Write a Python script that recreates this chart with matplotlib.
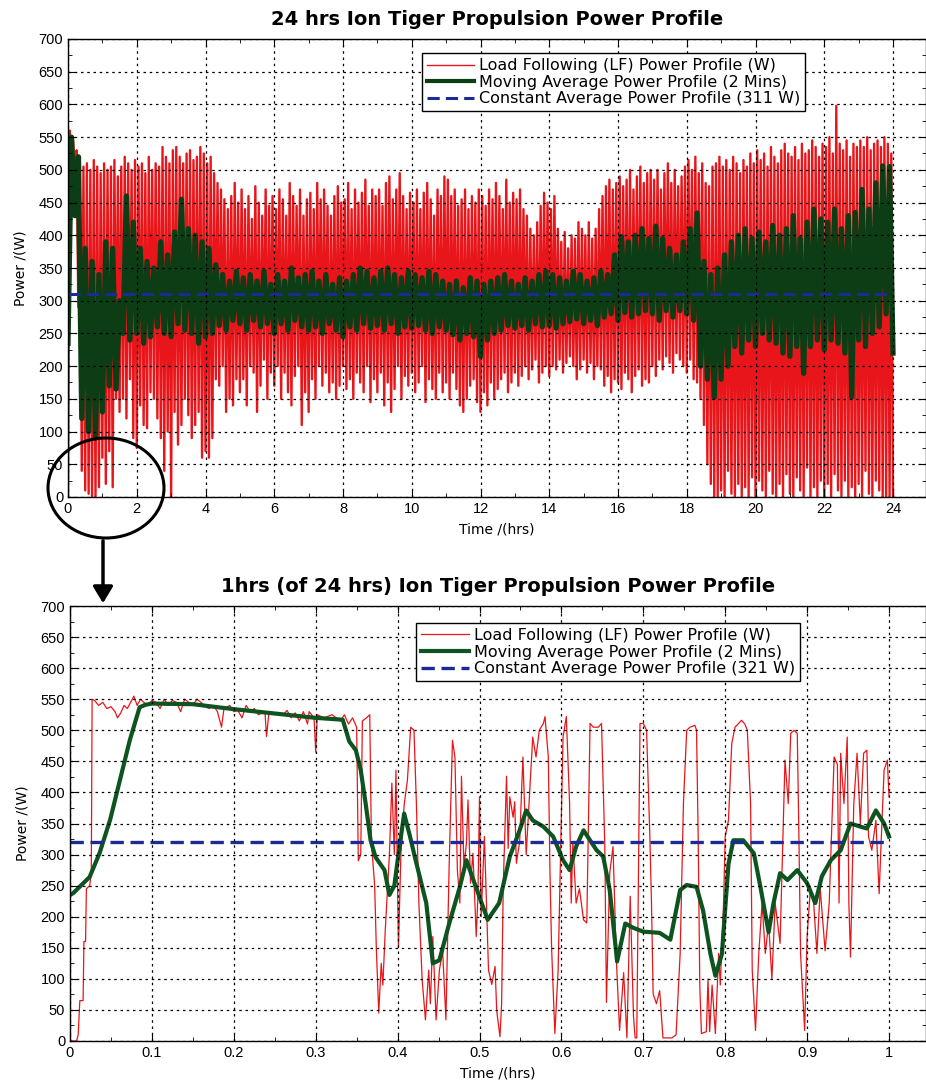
"""
Ion Tiger propulsion power profile: 24 h overview and 1 h zoom.
"""
import numpy as np
import matplotlib.pyplot as plt
from matplotlib.patches import Ellipse, FancyArrowPatch
from matplotlib.ticker import MultipleLocator

plt.rcParams["font.family"] = ["Liberation Sans", "DejaVu Sans"]

RED = "#e8161a"
GREEN_TOP = "#0c3d14"
GREEN = "#0d5420"
BLUE = "#1c2a96"

# ---- 24 h panel: LF signal read as trough/peak per 0.1 h (hours 0..23) ----
red_lo = [
    0, 500, 470, 290, 40, 10, 5, 0, 0, 15,
    60, 20, 70, 15, 150, 130, 150, 120, 180, 90,
    75, 140, 110, 105, 160, 150, 120, 90, 40, 100,
    0, 130, 80, 110, 150, 125, 90, 110, 130, 60,
    70, 60, 90, 180, 170, 200, 130, 150, 140, 180,
    160, 180, 140, 200, 190, 130, 170, 210, 150, 190,
    170, 200, 150, 190, 160, 140, 185, 200, 110, 160,
    130, 180, 150, 200, 170, 190, 160, 175, 150, 170,
    200, 165, 180, 150, 190, 175, 160, 200, 145, 180,
    160, 190, 140, 175, 130, 165, 200, 150, 185, 170,
    190, 160, 175, 200, 145, 180, 165, 150, 190, 160,
    175, 150, 190, 165, 140, 130, 150, 170, 180, 145,
    130, 160, 140, 175, 150, 165, 180, 190, 160, 175,
    190, 170, 185, 200, 180, 195, 210, 175, 190, 200,
    185, 200, 195, 210, 190, 205, 215, 200, 180, 195,
    210, 190, 205, 180, 200, 195, 170, 185, 160, 180,
    175, 165, 190, 180, 160, 185, 195, 170, 180, 175,
    200, 185, 210, 195, 215, 205, 190, 220, 210, 200,
    190, 210, 180, 175, 150, 110, 50, 20, 0, 0,
    10, 0, 40, 5, 0, 20, 0, 15, 0, 30,
    0, 25, 10, 0, 40, 5, 0, 20, 0, 35,
    5, 0, 30, 10, 0, 45, 0, 15, 0, 25,
    0, 20, 0, 35, 10, 0, 25, 0, 15, 0,
    20, 0, 40, 5, 0, 25, 10, 0, 0, 0,
]
red_hi = [
    560, 545, 530, 520, 505, 510, 500, 515, 505, 495,
    510, 500, 505, 515, 490, 505, 520, 510, 500, 515,
    505, 510, 495, 520, 500, 510, 505, 535, 520, 510,
    530, 535, 520, 510, 525, 530, 515, 520, 535, 525,
    510, 520, 495, 480, 470, 455, 440, 460, 480, 450,
    470, 440, 460, 425, 475, 450, 430, 470, 445, 460,
    440, 470, 455, 430, 480, 460, 445, 470, 430, 455,
    465, 440, 480, 455, 470, 445, 430, 460, 475, 450,
    455, 480, 440, 470, 450, 465, 485, 445, 470, 460,
    470, 445, 480, 490, 455, 470, 495, 460, 440, 465,
    450, 470, 440, 465, 480, 455, 430, 470, 460, 490,
    485, 460, 470, 445, 455, 470, 440, 460, 450, 470,
    460, 445, 470, 455, 480, 460, 440, 485, 450, 465,
    455, 470, 440, 430, 410, 400, 420, 445, 465, 450,
    440, 460, 410, 390, 405, 380, 400, 395, 420, 410,
    400, 420, 395, 410, 440, 460, 475, 485, 470, 480,
    490, 475, 485, 500, 470, 490, 505, 480, 495, 500,
    485, 500, 470, 495, 510, 480, 500, 475, 490, 505,
    515, 500, 520, 495, 510, 480, 475, 505, 510, 520,
    505, 515, 500, 520, 510, 495, 515, 505, 525, 510,
    530, 515, 525, 505, 535, 520, 510, 530, 540, 525,
    520, 535, 515, 540, 525, 530, 545, 535, 520, 540,
    535, 550, 525, 598, 540, 530, 545, 520, 540, 535,
    545, 535, 550, 530, 540, 545, 535, 550, 540, 525,
]
red_end = 0

# moving average read as trough/peak per 0.2 h (hours 0..23)
green_lo = [
    235, 430, 120, 100, 90,
    130, 170, 165, 250, 240,
    250, 235, 245, 260, 250,
    245, 265, 255, 250, 235,
    245, 250, 262, 255, 270,
    265, 255, 270, 260, 265,
    250, 265, 255, 270, 260,
    255, 260, 250, 265, 255,
    245, 260, 255, 265, 258,
    262, 255, 265, 250, 260,
    258, 262, 255, 250, 260,
    255, 248, 240, 250, 245,
    215, 240, 250, 255, 262,
    258, 262, 255, 265, 260,
    262, 258, 265, 268, 272,
    265, 270, 262, 275, 280,
    270, 282, 275, 280, 285,
    280, 270, 285, 275, 285,
    280, 270, 200, 180, 153,
    180, 200, 230, 220, 240,
    230, 250, 240, 235, 220,
    215, 230, 189, 230, 240,
    225, 240, 235, 220, 153,
    240, 230, 250, 260, 280,
]
green_hi = [
    550, 520, 380, 360, 340,
    390, 380, 300, 460, 420,
    380, 360, 350, 390, 370,
    405, 455, 410, 400, 390,
    380, 355, 340, 330, 345,
    335, 340, 330, 345, 325,
    340, 330, 350, 335, 340,
    345, 330, 340, 325, 335,
    330, 340, 350, 345, 335,
    345, 350, 340, 335, 345,
    340, 335, 345, 340, 330,
    325, 330, 320, 335, 330,
    325, 330, 335, 340, 330,
    325, 335, 330, 340, 345,
    340, 335, 330, 345, 340,
    330, 335, 345, 340, 370,
    398, 390, 400, 410, 395,
    414, 395, 380, 370, 390,
    410, 434, 360, 340, 350,
    370, 390, 400, 410, 395,
    405, 390, 415, 400, 410,
    430, 395, 420, 440, 425,
    420, 440, 410, 430, 435,
    470, 440, 480, 506, 505,
]
green_end = 220
avg_24h = 311

# ---- 1 h panel ----
lf_t = [
    0.000, 0.008, 0.010, 0.012, 0.016, 0.017, 0.019, 0.020, 0.024, 0.026,
    0.027, 0.030, 0.035, 0.040, 0.045, 0.050, 0.055, 0.058, 0.062, 0.066,
    0.070, 0.074, 0.078, 0.082, 0.086, 0.090, 0.095, 0.100, 0.105, 0.110,
    0.115, 0.120, 0.125, 0.130, 0.135, 0.140, 0.145, 0.150, 0.155, 0.160,
    0.165, 0.170, 0.175, 0.180, 0.185, 0.188, 0.195, 0.200, 0.205, 0.210,
    0.215, 0.220, 0.225, 0.230, 0.238, 0.240, 0.243, 0.250, 0.260, 0.265,
    0.270, 0.275, 0.280, 0.285, 0.290, 0.292, 0.298, 0.300, 0.302, 0.310,
    0.320, 0.330, 0.335, 0.340, 0.345, 0.350, 0.352, 0.355, 0.357, 0.362,
    0.366, 0.368, 0.372, 0.374, 0.377, 0.380, 0.382, 0.385, 0.390, 0.393,
    0.396, 0.398, 0.401, 0.404, 0.408, 0.412, 0.416, 0.420, 0.423, 0.426,
    0.430, 0.434, 0.438, 0.440, 0.443, 0.447, 0.451, 0.455, 0.459, 0.463,
    0.467, 0.470, 0.473, 0.476, 0.478, 0.481, 0.484, 0.486, 0.489, 0.492,
    0.496, 0.498, 0.500, 0.502, 0.506, 0.511, 0.515, 0.519, 0.521, 0.525,
    0.527, 0.529, 0.533, 0.535, 0.537, 0.541, 0.543, 0.545, 0.549, 0.553,
    0.557, 0.561, 0.565, 0.569, 0.573, 0.578, 0.580, 0.584, 0.586, 0.588,
    0.592, 0.596, 0.602, 0.606, 0.610, 0.612, 0.614, 0.618, 0.622, 0.627,
    0.631, 0.635, 0.639, 0.645, 0.649, 0.653, 0.655, 0.659, 0.663, 0.667,
    0.671, 0.676, 0.680, 0.684, 0.688, 0.690, 0.692, 0.696, 0.700, 0.704,
    0.708, 0.710, 0.712, 0.716, 0.720, 0.724, 0.735, 0.740, 0.745, 0.749,
    0.753, 0.757, 0.763, 0.765, 0.767, 0.769, 0.771, 0.777, 0.779, 0.781,
    0.784, 0.788, 0.792, 0.794, 0.798, 0.800, 0.804, 0.808, 0.812, 0.820,
    0.824, 0.827, 0.831, 0.833, 0.837, 0.841, 0.845, 0.849, 0.853, 0.857,
    0.861, 0.867, 0.873, 0.877, 0.880, 0.884, 0.888, 0.890, 0.892, 0.897,
    0.900, 0.904, 0.908, 0.912, 0.916, 0.922, 0.927, 0.933, 0.937, 0.939,
    0.941, 0.945, 0.949, 0.951, 0.953, 0.957, 0.961, 0.965, 0.969, 0.973,
    0.975, 0.979, 0.984, 0.988, 0.990, 0.994, 0.998, 1.000,
]
lf_w = [
    0, 0, 10, 65, 65, 160, 160, 245, 250, 270,
    550, 548, 540, 545, 535, 538, 530, 520, 528, 540,
    535, 545, 555, 540, 550, 545, 540, 548, 545, 535,
    550, 540, 548, 545, 530, 550, 545, 540, 550, 545,
    538, 535, 540, 530, 505, 535, 540, 530, 532, 520,
    540, 530, 535, 525, 530, 490, 530, 528, 525, 532,
    520, 528, 515, 530, 510, 530, 520, 465, 525, 520,
    525, 515, 525, 510, 520, 505, 290, 300, 515, 520,
    525, 320, 250, 150, 45, 125, 90, 180, 300, 415,
    300, 436, 150, 300, 380, 420, 505, 500, 380, 222,
    98, 34, 114, 60, 168, 34, 114, 145, 34, 286,
    484, 457, 275, 222, 426, 280, 318, 388, 254, 302,
    168, 230, 393, 200, 329, 114, 91, 120, 49, 7,
    60, 250, 426, 310, 393, 360, 385, 286, 320, 457,
    300, 393, 489, 457, 500, 511, 522, 457, 275, 151,
    12, 114, 489, 522, 382, 222, 320, 222, 245, 195,
    190, 511, 505, 505, 511, 313, 62, 270, 313, 135,
    17, 110, 5, 233, 40, 5, 5, 511, 511, 500,
    329, 222, 76, 60, 81, 5, 5, 10, 141, 382,
    500, 505, 508, 500, 329, 87, 12, 15, 100, 15,
    90, 12, 141, 90, 222, 329, 355, 479, 505, 516,
    510, 500, 382, 114, 17, 141, 222, 141, 190, 100,
    222, 157, 452, 382, 495, 500, 495, 329, 141, 17,
    168, 245, 222, 141, 245, 145, 222, 457, 445, 222,
    463, 382, 489, 222, 135, 382, 463, 350, 463, 468,
    329, 307, 355, 237, 307, 436, 452, 393,
]
ma_t = [
    0.000, 0.004, 0.024, 0.036, 0.049, 0.061, 0.073, 0.085, 0.092, 0.100,
    0.150, 0.200, 0.250, 0.300, 0.333, 0.341, 0.349, 0.355, 0.361, 0.367,
    0.373, 0.384, 0.390, 0.396, 0.401, 0.408, 0.415, 0.422, 0.435, 0.443,
    0.451, 0.463, 0.476, 0.484, 0.495, 0.510, 0.524, 0.537, 0.549, 0.557,
    0.565, 0.578, 0.590, 0.602, 0.610, 0.618, 0.627, 0.635, 0.643, 0.651,
    0.659, 0.668, 0.678, 0.688, 0.700, 0.720, 0.733, 0.745, 0.753, 0.765,
    0.773, 0.782, 0.788, 0.796, 0.804, 0.810, 0.822, 0.835, 0.843, 0.853,
    0.859, 0.867, 0.876, 0.888, 0.900, 0.910, 0.918, 0.929, 0.941, 0.953,
    0.965, 0.973, 0.984, 0.994, 1.000,
]
ma_w = [
    235, 238, 264, 302, 356, 420, 484, 537, 541, 543,
    542, 534, 527, 520, 517, 482, 468, 436, 382, 323,
    296, 275, 235, 250, 300, 366, 330, 291, 222, 125,
    130, 189, 248, 291, 250, 195, 222, 297, 339, 371,
    355, 345, 329, 291, 275, 313, 339, 323, 307, 297,
    243, 128, 189, 182, 176, 174, 163, 243, 251, 248,
    210, 140, 105, 140, 285, 323, 323, 302, 248, 175,
    222, 270, 259, 275, 254, 222, 265, 291, 307, 350,
    345, 342, 371, 350, 329,
]
avg_1h = 321

TEXT_FONT = ["DejaVu Sans"]


def zigzag(lo, hi, step, end_val, t_end):
    """Interleave read trough/peak values into one trace."""
    t0 = np.arange(len(lo)) * step
    t = np.empty(2 * len(lo))
    v = np.empty(2 * len(lo))
    t[0::2], t[1::2] = t0, t0 + step / 2
    v[0::2], v[1::2] = lo, hi
    return np.append(t, t_end), np.append(v, end_val)


def style_axes(ax, xmax, xmajor, xminor, title):
    ax.set_xlim(0, xmax)
    ax.set_ylim(0, 700)
    ax.xaxis.set_major_locator(MultipleLocator(xmajor))
    ax.xaxis.set_minor_locator(MultipleLocator(xminor))
    ax.xaxis.set_major_formatter(lambda v, pos: f"{v:g}")
    ax.yaxis.set_major_locator(MultipleLocator(50))
    ax.yaxis.set_minor_locator(MultipleLocator(25))
    ax.tick_params(which="both", direction="in", top=True, right=True, labelsize=10.5)
    ax.tick_params(which="major", length=5)
    ax.tick_params(which="minor", length=3)
    ax.grid(True, which="major", color="black", linestyle=(0, (2, 3)), linewidth=0.9)
    ax.set_axisbelow(False)
    ax.set_title(title, fontsize=14, fontweight="bold", pad=10, family=TEXT_FONT)
    ax.set_xlabel("Time /(hrs)", fontsize=10, labelpad=5, family=TEXT_FONT)
    ax.set_ylabel("Power /(W)", fontsize=10, labelpad=8, family=TEXT_FONT)
    for s in ax.spines.values():
        s.set_linewidth(1.0)


def add_legend(ax, avg, anchor):
    leg = ax.legend(loc="upper left", bbox_to_anchor=anchor,
                    prop={"family": TEXT_FONT, "size": 11.5},
                    handlelength=3.0, borderpad=0.3, labelspacing=0.1,
                    handletextpad=0.3, fancybox=False, framealpha=1)
    leg.get_frame().set_edgecolor("black")
    leg.get_frame().set_linewidth(1.0)
    leg.get_texts()[2].set_text(f"Constant Average Power Profile ({avg} W)")
    return leg


fig = plt.figure(figsize=(9.26, 10.81), dpi=100)

ax1 = fig.add_axes([68 / 926, 1 - 497 / 1081, 858 / 926, 458 / 1081])
t_red, v_red = zigzag(red_lo, red_hi, 0.1, red_end, 24.0)
t_ma, v_ma = zigzag(green_lo, green_hi, 0.2, green_end, 24.0)
ax1.plot(t_red, v_red, color=RED, lw=1.7, label="Load Following (LF) Power Profile (W)")
ax1.plot(t_ma, v_ma, color=GREEN_TOP, lw=3.8, label="Moving Average Power Profile (2 Mins)")
ax1.plot([0, 24], [avg_24h, avg_24h], color=BLUE, lw=2.2, ls=(0, (4, 2)),
         label="Constant Average Power Profile")
style_axes(ax1, 24 * 858 / 825, 2, 1, "24 hrs Ion Tiger Propulsion Power Profile")
leg1 = add_legend(ax1, avg_24h, (0.403, 0.986))
leg1.get_lines()[0].set_linewidth(1.0)
leg1.get_lines()[1].set_linewidth(3.0)

ax2 = fig.add_axes([70 / 926, 1 - 1041 / 1081, 856 / 926, 435 / 1081])
ax2.plot(lf_t, lf_w, color=RED, lw=0.9, label="Load Following (LF) Power Profile (W)")
ax2.plot(ma_t, ma_w, color=GREEN, lw=3.0, label="Moving Average Power Profile (2 Mins)")
ax2.plot([0, 1], [avg_1h, avg_1h], color=BLUE, lw=2.4, ls=(0, (4, 2)),
         label="Constant Average Power Profile")
style_axes(ax2, 856 / 819, 0.1, 0.05, "1hrs (of 24 hrs) Ion Tiger Propulsion Power Profile")
add_legend(ax2, avg_1h, (0.395, 0.979))

# zoom callout: circle round the first hour and arrow to the lower panel
fig.patches.append(Ellipse((106 / 926, 1 - 488 / 1081), 116 / 926, 100 / 1081,
                           transform=fig.transFigure, fill=False, ec="black", lw=2.2))
fig.patches.append(FancyArrowPatch((103 / 926, 1 - 538 / 1081), (103 / 926, 1 - 606 / 1081),
                                   transform=fig.transFigure, arrowstyle="-|>,head_length=10,head_width=6",
                                   color="black", lw=2.5, mutation_scale=1))

fig.savefig("out.png", dpi=100)
